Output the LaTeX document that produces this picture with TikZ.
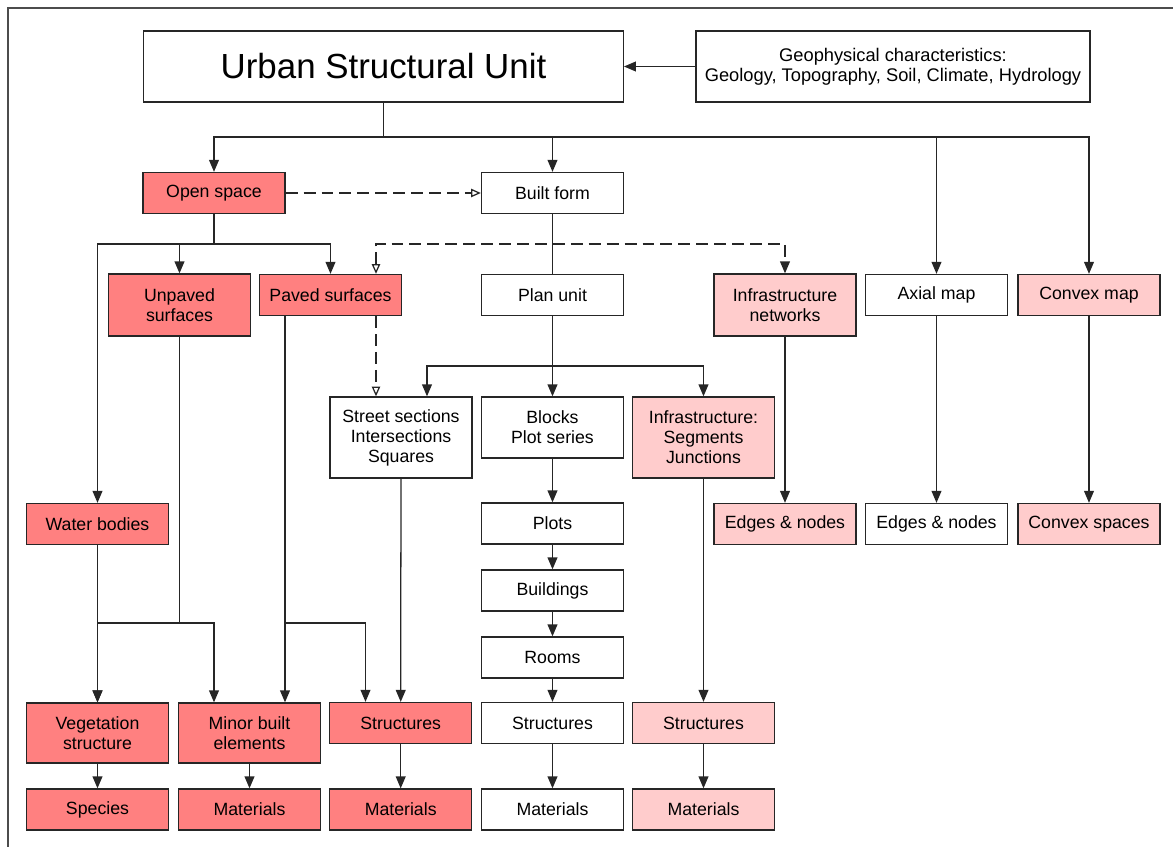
\documentclass[tikz,border=0pt]{standalone}
\usepackage{fontspec}
\setmainfont{Liberation Sans}
\usetikzlibrary{arrows.meta}
\definecolor{osred}{RGB}{255,128,128}
\definecolor{netpink}{RGB}{255,204,204}

\begin{document}
\begin{tikzpicture}[x=0.025cm, y=-0.025cm, line width=0.9pt,
	box/.style={draw=black!85, fill=white, minimum width=3.55cm, minimum height=1.025cm, align=center, inner sep=1pt, font=\fontsize{12.6}{14.2}\selectfont},
	redbox/.style={box, fill=osred},
	pinkbox/.style={box, fill=netpink},
	link/.style={draw=black!85},
	arr/.style={link, -{Triangle[length=8.5pt, width=7pt]}},
	dashline/.style={link, dash pattern=on 8.5pt off 4.25pt},
	openarr/.style={-{Triangle[open, length=7pt, width=6pt]}}]
	\useasboundingbox (0,0) rectangle (1173,847);
	\draw [black!70, line width=1.2pt] (8,847) -- (8,8) -- (1173,8);

	\node [box, minimum width=11.99cm, minimum height=1.775cm, font=\fontsize{24.8}{28}\selectfont] (usu) at (383.5,66.5) {Urban Structural Unit};
	\node [box, minimum width=9.85cm, minimum height=1.775cm, font=\fontsize{13}{14.4}\selectfont] (geo) at (893,66.5) {Geophysical characteristics:\\Geology, Topography, Soil, Climate, Hydrology};
	\node [redbox] (open) at (214,193) {Open space};
	\node [box] (built) at (552.5,193) {Built form};
	\node [redbox, minimum height=1.55cm] (unpaved) at (179.5,305) {Unpaved\\surfaces};
	\node [redbox] (paved) at (330.5,295) {Paved surfaces};
	\node [box] (plan) at (552.5,295) {Plan unit};
	\node [pinkbox, minimum height=1.55cm] (infnet) at (785,305) {Infrastructure\\networks};
	\node [box] (axial) at (936.5,295) {Axial map};
	\node [pinkbox] (convex) at (1089,295) {Convex map};
	\node [box, minimum height=2.025cm] (street) at (401,437.5) {Street sections\\Intersections\\Squares};
	\node [box, minimum height=1.525cm] (blocks) at (552.5,427.5) {Blocks\\Plot series};
	\node [pinkbox, minimum height=2.025cm] (infseg) at (703.5,437.5) {Infrastructure:\\Segments\\Junctions};
	\node [redbox] (water) at (97.5,524) {Water bodies};
	\node [box] (plots) at (552.5,523.5) {Plots};
	\node [pinkbox] (netedges) at (785,524) {Edges \& nodes};
	\node [box] (axedges) at (936.5,524) {Edges \& nodes};
	\node [pinkbox] (cvspaces) at (1089,524) {Convex spaces};
	\node [box] (buildings) at (552.5,590.5) {Buildings};
	\node [box] (rooms) at (552.5,657.5) {Rooms};
	\node [redbox, minimum height=1.5cm] (veg) at (97.5,733) {Vegetation\\structure};
	\node [redbox, minimum height=1.5cm] (minor) at (249.5,733) {Minor built\\elements};
	\node [redbox] (osstruct) at (400.7,723) {Structures};
	\node [box] (bfstruct) at (552.5,723) {Structures};
	\node [pinkbox] (infstruct) at (703.5,723) {Structures};
	\node [redbox] (species) at (97.5,809.5) {Species};
	\node [redbox] (minormat) at (249.5,809.5) {Materials};
	\node [redbox] (osmat) at (400.7,809.5) {Materials};
	\node [box] (bfmat) at (552.5,809.5) {Materials};
	\node [pinkbox] (infmat) at (703.5,809.5) {Materials};

	\coordinate (topbus) at (383.5,137);
	\coordinate (osbus) at (214,244);
	\coordinate (pvlink) at (376,244);
	\coordinate (pubus) at (552.5,366);
	\coordinate (stin) at (427,366);
	\coordinate (upbus) at (179.5,623);
	\coordinate (mbin) at (214,623);
	\coordinate (pvbus) at (285,623);
	\coordinate (osin) at (365.5,623);

	\draw [arr] (geo) -- (usu);
	\draw [link] (usu) -- (topbus);
	\foreach \n in {open,built,axial,convex}
		\draw [arr] (topbus) -| (\n);
	\draw [dashline, openarr] (open) -- (built);
	\draw [link] (open) -- (osbus);
	\foreach \n in {water,unpaved,paved}
		\draw [arr] (osbus) -| (\n);
	\draw [link] (built) -- (plan);
	\draw [dashline, {Triangle[open, length=7pt, width=6pt]}-{Triangle[length=8.5pt, width=7pt]}] (pvlink |- paved.north) -- (pvlink) -| (infnet);
	\draw [dashline, openarr] (pvlink |- paved.south) -- (pvlink |- street.north);
	\draw [arr] (plan) -- (blocks);
	\draw [arr] (pubus) -- (stin) -- (stin |- street.north);
	\draw [arr] (pubus) -| (infseg);
	\foreach \a/\b in {blocks/plots, plots/buildings, buildings/rooms, rooms/bfstruct, bfstruct/bfmat, infseg/infstruct, infstruct/infmat, street/osstruct, osstruct/osmat, water/veg, veg/species, minor/minormat, infnet/netedges, axial/axedges, convex/cvspaces}
		\draw [arr] (\a) -- (\b);
	\draw [link] (unpaved) -- (upbus);
	\draw [arr] (upbus) -| (veg);
	\draw [arr] (upbus) -- (mbin) -- (mbin |- minor.north);
	\draw [arr] (pvbus |- paved.south) -- (pvbus |- minor.north);
	\draw [arr] (pvbus) -- (osin) -- (osin |- osstruct.north);
\end{tikzpicture}
\end{document}
